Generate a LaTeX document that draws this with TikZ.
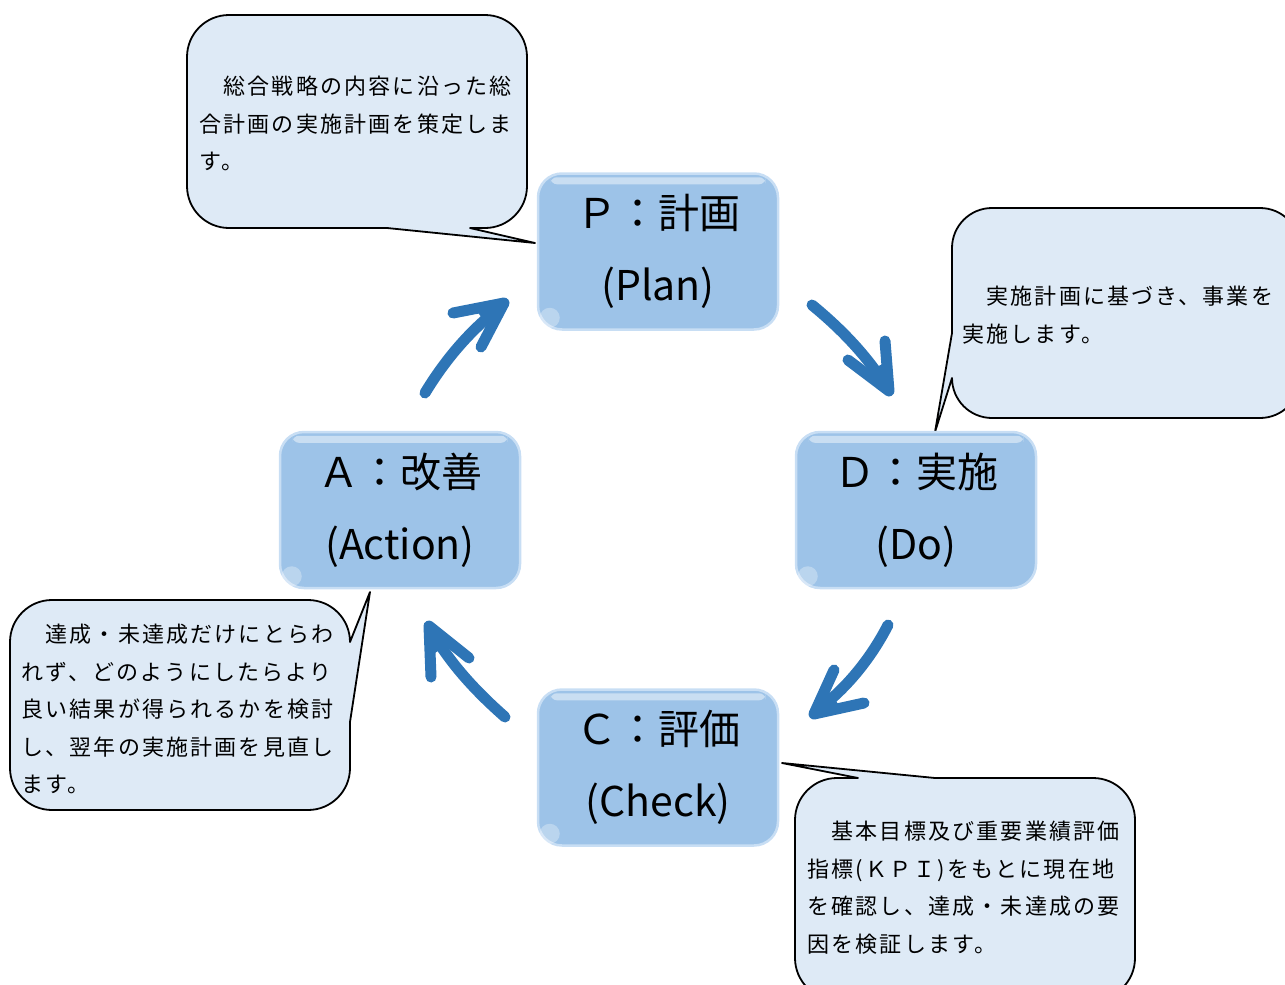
\documentclass[tikz,border=0pt]{standalone}
\usepackage{fontspec}
\newfontfamily\jpc[LetterSpace=10]{Noto Sans CJK JP}
\newfontfamily\jpb{Noto Sans CJK JP}
\definecolor{boxblue}{RGB}{157,195,232}
\definecolor{boxedge}{RGB}{200,222,244}
\definecolor{callfill}{RGB}{222,234,246}
\definecolor{arrowblue}{RGB}{46,117,182}
\begin{document}
\begin{tikzpicture}[x=1pt,y=-1pt,
  stage/.style={rounded corners=24pt, fill=boxblue, draw=boxedge, line width=2.5pt,
    minimum width=240pt, minimum height=156pt, inner sep=0pt, align=center,
    font=\jpb\fontsize{41}{72}\selectfont},
  bubble/.style={fill=callfill, draw=black, line width=1.8pt, line join=round},
  bubbletext/.style={anchor=north west, inner sep=0pt, align=left,
    font=\jpc\fontsize{22}{37.5}\selectfont},
  flow/.style={draw=arrowblue, line width=11pt, line cap=round, line join=round},
  headfill/.style={fill=arrowblue},
  glow/.style={fill=white, opacity=0.45, rounded corners=6pt}]
\useasboundingbox (0,0) rectangle (1285,985);
\clip (0,0) rectangle (1285,985);

% ---- callout bubbles ----
\draw[bubble] (387,228) -- (229,228) arc[start angle=90,end angle=180,radius=42]
  -- (187,57) arc[start angle=180,end angle=270,radius=42]
  -- (485,15) arc[start angle=270,end angle=360,radius=42]
  -- (527,186) arc[start angle=0,end angle=90,radius=42]
  -- (470,228) -- (535,243) -- cycle;
\node[bubbletext] (tp) at (199,76) {　総合戦略の内容に沿った総\\合計画の実施計画を策定しま\\す。};

\draw[bubble] (952,333) -- (952,248) arc[start angle=180,end angle=270,radius=40]
  -- (1260,208) arc[start angle=270,end angle=360,radius=40]
  -- (1300,378) arc[start angle=0,end angle=90,radius=40]
  -- (992,418) arc[start angle=90,end angle=180,radius=40]
  -- (935,432) -- cycle;
\node[bubbletext] (td) at (962,286) {　実施計画に基づき、事業を\\実施します。};

\draw[bubble] (935,778) -- (1093,778) arc[start angle=270,end angle=360,radius=42]
  -- (1135,958) arc[start angle=0,end angle=90,radius=42]
  -- (837,1000) arc[start angle=90,end angle=180,radius=42]
  -- (795,820) arc[start angle=180,end angle=270,radius=42]
  -- (858,778) -- (782,763) -- cycle;
\node[bubbletext] (tc) at (807,821) {　基本目標及び重要業績評価\\指標(ＫＰＩ)をもとに現在地\\を確認し、達成・未達成の要\\因を検証します。};

\draw[bubble] (350,722) -- (350,768) arc[start angle=0,end angle=90,radius=42]
  -- (52,810) arc[start angle=90,end angle=180,radius=42]
  -- (10,642) arc[start angle=180,end angle=270,radius=42]
  -- (308,600) arc[start angle=270,end angle=360,radius=42]
  -- (370,592) -- cycle;
\node[bubbletext] (ta) at (21,624) {　達成・未達成だけにとらわ\\れず、どのようにしたらより\\良い結果が得られるかを検討\\し、翌年の実施計画を見直し\\ます。};

% ---- PDCA boxes ----
\node[stage] (P) at (658,251.5) {Ｐ：計画\\(Plan)};
\node[stage] (D) at (916,510) {Ｄ：実施\\(Do)};
\node[stage] (A) at (400,510) {Ａ：改善\\(Action)};
\node[stage] (C) at (658,767.5) {Ｃ：評価\\(Check)};
\foreach \n in {P,D,A,C}{
  \fill[glow] ([xshift=14pt,yshift=-5pt]\n.north west) rectangle ([xshift=-14pt,yshift=-12pt]\n.north east);
  \fill[white,opacity=0.3] ([xshift=13pt,yshift=13pt]\n.south west) circle[radius=10pt];
}

% ---- cycle arrows ----
\coordinate (pd1) at (812,305); \coordinate (pd2) at (887,388);
\coordinate (dc1) at (888,625); \coordinate (dc2) at (815,712);
\coordinate (ca1) at (505,717); \coordinate (ca2) at (430,628);
\coordinate (ap1) at (425,393); \coordinate (ap2) at (503,305);
\draw[flow] (pd1) .. controls (845,332) and (870,360) .. (pd2);
\draw[flow] (885,341) -- (889,391) -- (848,360);
\fill[headfill] (889,393) -- (886,362) -- (866,373) -- cycle;
\draw[flow] (dc1) .. controls (870,660) and (845,690) .. (dc2);
\draw[flow] (834,670) -- (814,714) -- (864,703);
\fill[headfill] (812,716) -- (826,688) -- (842,709) -- cycle;
\draw[flow] (ca1) .. controls (480,695) and (450,665) .. (ca2);
\draw[flow] (431,677) -- (429,626) -- (469,658);
\fill[headfill] (428,624) -- (430,656) -- (451,643) -- cycle;
\draw[flow] (ap1) .. controls (445,360) and (470,330) .. (ap2);
\draw[flow] (453,313) -- (504,303) -- (481,347);
\fill[headfill] (506,301) -- (475,309) -- (490,328) -- cycle;
\end{tikzpicture}
\end{document}
